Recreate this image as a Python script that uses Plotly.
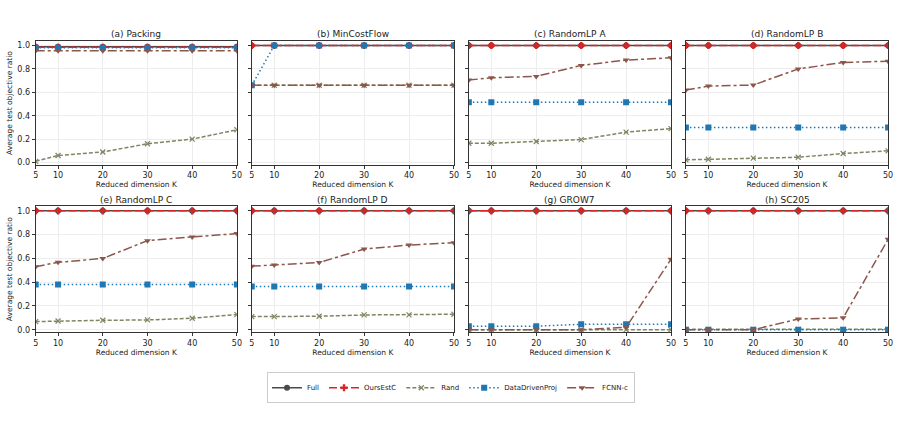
import plotly.graph_objects as go

K = [5, 10, 20, 30, 40, 50]
titles = ["(a) Packing", "(b) MinCostFlow", "(c) RandomLP A", "(d) RandomLP B",
          "(e) RandomLP C", "(f) RandomLP D", "(g) GROW7", "(h) SC205"]

full = [
    [0.99, 0.99, 0.99, 0.99, 0.99, 0.99],
    [1.0, 1.0, 1.0, 1.0, 1.0, 1.0],
    [1.0, 1.0, 1.0, 1.0, 1.0, 1.0],
    [1.0, 1.0, 1.0, 1.0, 1.0, 1.0],
    [1.0, 1.0, 1.0, 1.0, 1.0, 1.0],
    [1.0, 1.0, 1.0, 1.0, 1.0, 1.0],
    [1.0, 1.0, 1.0, 1.0, 1.0, 1.0],
    [1.0, 1.0, 1.0, 1.0, 1.0, 1.0],
]
ours = [
    [0.985, 0.985, 0.985, 0.985, 0.985, 0.985],
    [1.0, 1.0, 1.0, 1.0, 1.0, 1.0],
    [1.0, 1.0, 1.0, 1.0, 1.0, 1.0],
    [1.0, 1.0, 1.0, 1.0, 1.0, 1.0],
    [1.0, 1.0, 1.0, 1.0, 1.0, 1.0],
    [1.0, 1.0, 1.0, 1.0, 1.0, 1.0],
    [1.0, 1.0, 1.0, 1.0, 1.0, 1.0],
    [1.0, 1.0, 1.0, 1.0, 1.0, 1.0],
]
rand = [
    [0.01, 0.06, 0.09, 0.16, 0.20, 0.28],
    [0.66, 0.66, 0.66, 0.66, 0.66, 0.66],
    [0.165, 0.165, 0.18, 0.196, 0.26, 0.29],
    [0.023, 0.028, 0.037, 0.045, 0.077, 0.10],
    [0.068, 0.073, 0.079, 0.082, 0.096, 0.127],
    [0.11, 0.11, 0.113, 0.124, 0.124, 0.13],
    [0.0, 0.0, 0.0, 0.0, 0.0, 0.0],
    [0.003, 0.003, 0.003, 0.003, 0.003, 0.003],
]
ddp = [
    [0.98, 0.98, 0.98, 0.98, 0.98, 0.98],
    [0.66, 1.0, 1.0, 1.0, 1.0, 1.0],
    [0.514, 0.514, 0.514, 0.514, 0.514, 0.514],
    [0.30, 0.30, 0.30, 0.30, 0.30, 0.30],
    [0.381, 0.381, 0.381, 0.381, 0.381, 0.381],
    [0.364, 0.364, 0.364, 0.364, 0.364, 0.364],
    [0.03, 0.03, 0.03, 0.045, 0.045, 0.045],
    [0.0, 0.0, 0.0, 0.0, 0.0, 0.0],
]
fcnn = [
    [0.955, 0.955, 0.955, 0.955, 0.955, 0.955],
    [0.66, 0.66, 0.66, 0.66, 0.66, 0.66],
    [0.705, 0.724, 0.736, 0.83, 0.875, 0.895],
    [0.62, 0.653, 0.662, 0.80, 0.855, 0.866],
    [0.53, 0.567, 0.599, 0.749, 0.78, 0.808],
    [0.534, 0.545, 0.565, 0.678, 0.712, 0.732],
    [0.0, 0.0, 0.0, 0.0, 0.02, 0.593],
    [0.0, 0.0, 0.0, 0.09, 0.10, 0.76],
]

series = [
    ("Full", full, "#4a4a4a", "solid", "circle", 6),
    ("OursEstC", ours, "#d62728", "8px,3px", "cross", 6),
    ("Rand", rand, "#7c8762", "4px,2px", "x-thin-open", 5),
    ("DataDrivenProj", ddp, "#1f77b4", "1.5px,2.5px", "square", 6),
    ("FCNN-c", fcnn, "#8c564b", "dashdot", "triangle-down", 6),
]

W, H = 904, 425
xpix = [(33, 236), (251, 455), (470, 674), (689, 893)]
ypix = [(41, 166), (207, 334)]

fig = go.Figure()
layout = dict(
    width=W, height=H, margin=dict(l=0, r=0, t=0, b=0),
    paper_bgcolor="white", plot_bgcolor="white",
    font=dict(family="DejaVu Sans", size=8, color="#222"),
    showlegend=True,
)
annotations = []
for i in range(8):
    r, c = divmod(i, 4)
    idx = "" if i == 0 else str(i + 1)
    xa, ya = "x" + idx, "y" + idx
    x0, x1 = xpix[c]
    yt, yb = ypix[r]
    layout["xaxis" + idx] = dict(
        domain=[x0 / W, x1 / W], anchor=ya, range=[5, 50],
        tickvals=K, ticks="outside", ticklen=2.5, tickcolor="#333",
        showline=True, linecolor="#333", linewidth=1, mirror=True,
        showgrid=True, gridcolor="#ededed", gridwidth=1, zeroline=False,
        tickfont=dict(size=8),
        title=dict(text="Reduced dimension K", font=dict(size=7.5), standoff=0),
    )
    layout["yaxis" + idx] = dict(
        domain=[1 - yb / H, 1 - yt / H], anchor=xa, range=[-0.023, 1.04],
        tickvals=[0, 0.2, 0.4, 0.6, 0.8, 1.0], ticktext=["0.0", "0.2", "0.4", "0.6", "0.8", "1.0"],
        ticks="outside", ticklen=3, tickcolor="#333",
        showticklabels=(c == 0),
        showline=True, linecolor="#333", linewidth=1, mirror=True,
        showgrid=True, gridcolor="#ededed", gridwidth=1, zeroline=False,
        tickfont=dict(size=8),
    )
    if c == 0:
        layout["yaxis" + idx]["title"] = dict(text="Average test objective ratio", font=dict(size=7.5), standoff=3)
    annotations.append(dict(
        text=titles[i], x=(x0 + x1) / 2 / W, y=1 - (yt - 6.5) / H, xref="paper", yref="paper",
        xanchor="center", yanchor="middle", showarrow=False, font=dict(size=9),
    ))
    for name, data, color, dash, sym, ms in series:
        fig.add_trace(go.Scatter(
            x=K, y=data[i], mode="lines+markers", name=name, xaxis=xa, yaxis=ya,
            line=dict(color=color, dash=dash, width=1.5),
            marker=dict(symbol=sym, size=ms, color=color,
                        line=dict(width=1.2 if sym == "x-thin-open" else 0, color=color)),
            showlegend=(i == 0), legendgroup=name,
        ))

layout["annotations"] = annotations
layout["legend"] = dict(
    orientation="h", x=452 / W, y=1 - 374 / H, xanchor="center", yanchor="top",
    bordercolor="#cccccc", borderwidth=1, bgcolor="white",
    font=dict(size=7), itemwidth=30, tracegroupgap=0,
)
fig.update_layout(**layout)
fig.write_html("out.html")
